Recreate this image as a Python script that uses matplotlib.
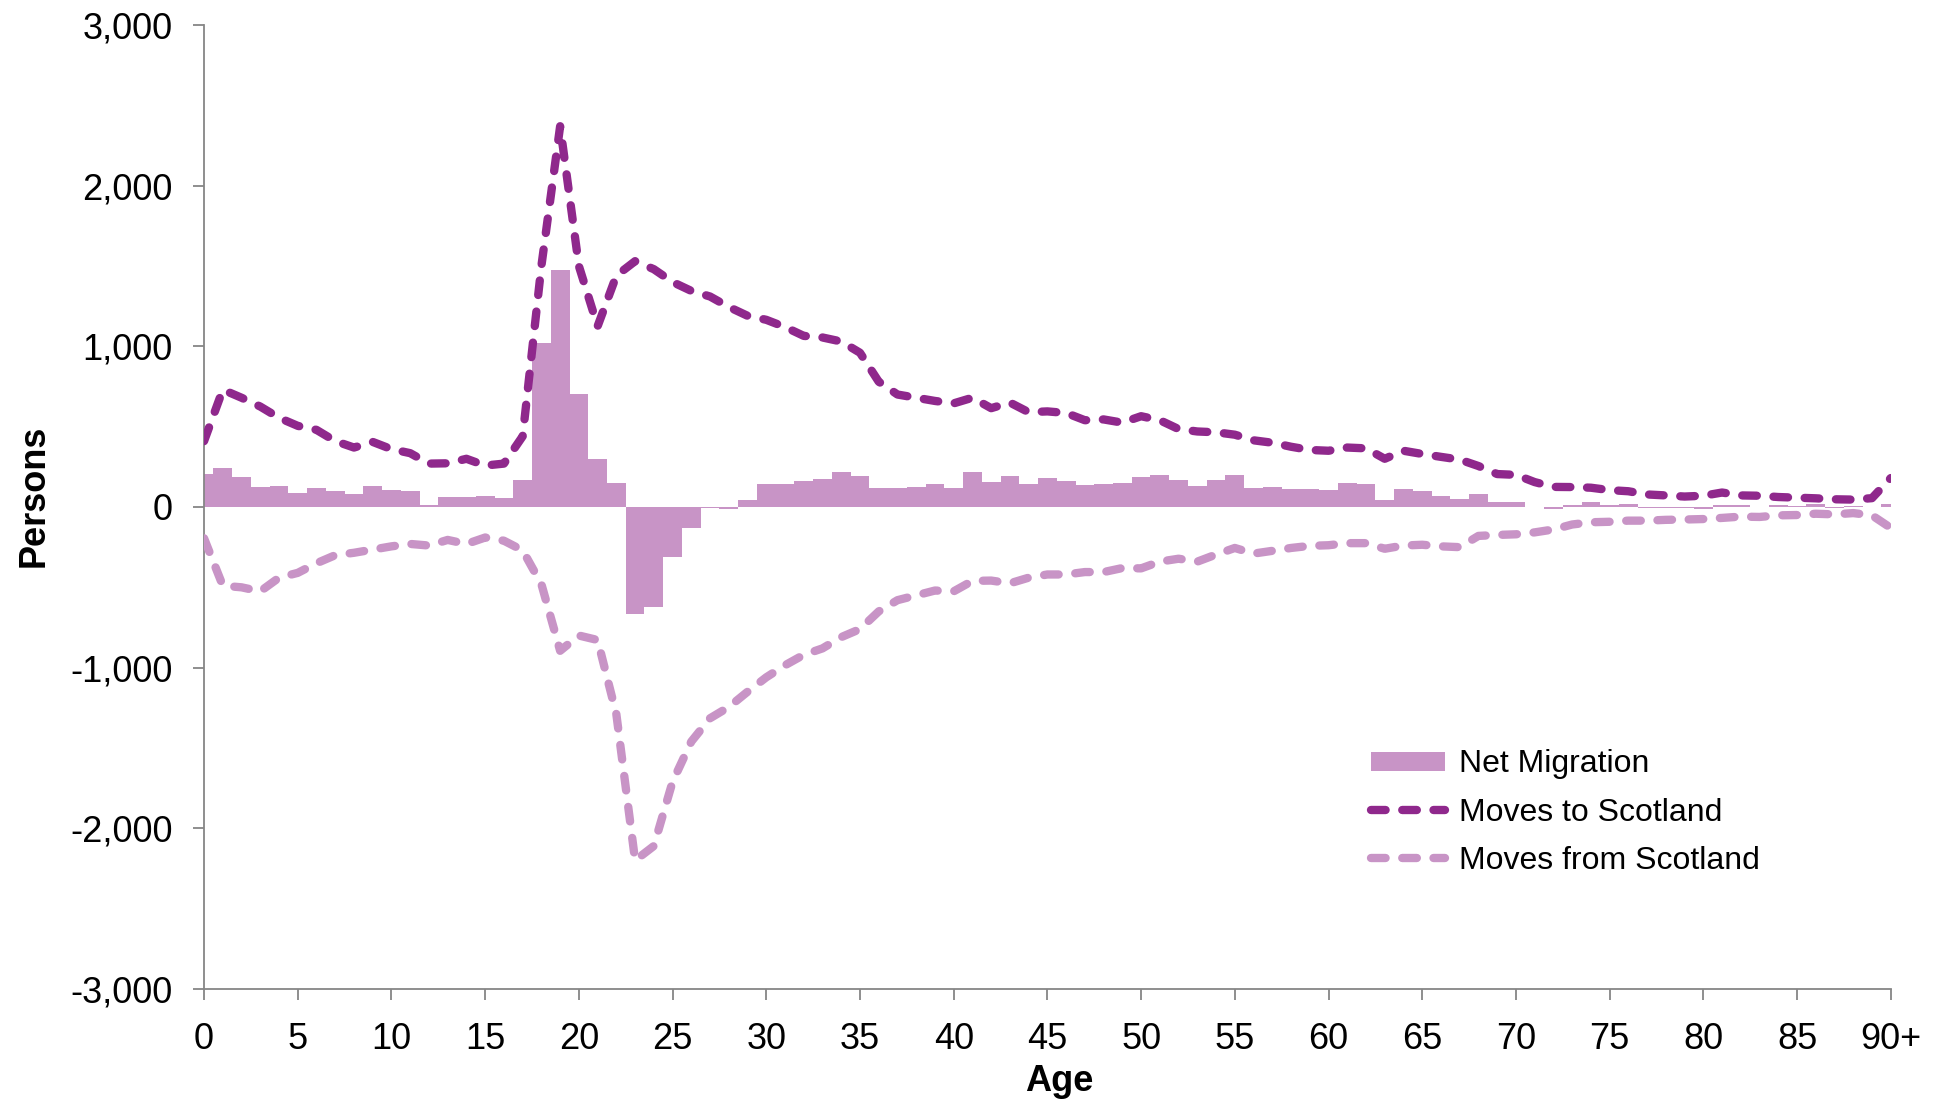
import matplotlib
matplotlib.use('Agg')
import matplotlib.pyplot as plt
from matplotlib.ticker import FuncFormatter
import numpy as np

plt.rcParams['font.family'] = ['Liberation Sans', 'DejaVu Sans']
plt.rcParams['lines.scale_dashes'] = False

# single year of age, last one is 90+
ages = np.arange(91)

net_migration = [
    207, 240, 188, 124, 129, 86, 117, 102, 81, 129,
    105, 100, 12, 62, 60, 67, 55, 169, 1019, 1476,
    702, 296, 149, -667, -625, -311, -131, -6, -10, 44,
    144, 144, 164, 175, 219, 194, 119, 119, 126, 142,
    118, 220, 157, 192, 142, 179, 164, 135, 142, 151,
    186, 199, 166, 129, 168, 199, 116, 127, 114, 111,
    107, 148, 140, 41, 113, 100, 70, 50, 78, 28,
    28, 0, -15, 15, 33, 11, 17, -8, -5, -5,
    -10, 10, 10, 0, 10, 6, 20, -5, 8, -3,
    17]

moves_to = [
    410, 730, 680, 625, 555, 505, 480, 410, 370, 405,
    360, 335, 270, 272, 300, 258, 270, 440, 1500, 2370,
    1500, 1125, 1440, 1530, 1480, 1400, 1345, 1310, 1245, 1190,
    1165, 1120, 1065, 1055, 1030, 960, 780, 700, 680, 660,
    645, 680, 615, 650, 590, 595, 585, 540, 545, 525,
    565, 540, 485, 470, 465, 450, 415, 400, 375, 355,
    350, 370, 365, 300, 350, 330, 312, 295, 255, 205,
    200, 155, 125, 124, 120, 105, 98, 78, 72, 65,
    70, 90, 72, 70, 62, 58, 54, 48, 46, 55,
    180]

moves_from = [
    -195, -490, -500, -525, -440, -410, -350, -300, -285, -265,
    -245, -230, -240, -205, -230, -190, -210, -270, -480, -895,
    -800, -828, -1290, -2200, -2110, -1710, -1460, -1315, -1245, -1150,
    -1060, -985, -920, -880, -810, -760, -650, -580, -550, -520,
    -525, -460, -458, -475, -440, -420, -420, -405, -405, -380,
    -382, -340, -322, -340, -296, -255, -290, -273, -255, -242,
    -238, -225, -225, -260, -240, -235, -245, -250, -180, -174,
    -170, -158, -140, -109, -95, -92, -85, -85, -80, -78,
    -75, -68, -60, -62, -52, -50, -42, -46, -38, -52,
    -130]

x_ticks = list(range(0, 91, 5))
x_labels = [str(t) for t in range(0, 90, 5)] + ['90+']

dark = '#8F288C'
light = '#C894C6'
grey = '#868686'

fig = plt.figure(figsize=(19.49, 11.06), dpi=100)
ax = fig.add_axes([0.1047, 0.1058, 0.8654, 0.8716])

bars = ax.bar(ages, net_migration, width=1.0, color=light, linewidth=0,
              label='Net Migration', zorder=2)
line_to, = ax.plot(ages, moves_to, color=dark, lw=6, dashes=(10.5, 12),
                   dash_capstyle='round', label='Moves to Scotland', zorder=3)
line_from, = ax.plot(ages, moves_from, color=light, lw=6, dashes=(10.5, 12),
                     dash_capstyle='round', label='Moves from Scotland', zorder=3)

ax.set_xlim(0, 90)
ax.set_ylim(-3000, 3000)
ax.set_xticks(x_ticks)
ax.set_xticklabels(x_labels)
ax.set_yticks(range(-3000, 3001, 1000))
ax.yaxis.set_major_formatter(FuncFormatter(lambda v, p: f'{v:,.0f}'))

for side in ['top', 'right']:
    ax.spines[side].set_visible(False)
for side in ['left', 'bottom']:
    ax.spines[side].set_color(grey)
    ax.spines[side].set_linewidth(1.3)

ax.tick_params(axis='both', direction='out', length=7.7, width=1.3,
               color=grey, labelsize=26)
ax.tick_params(axis='x', pad=16)
ax.tick_params(axis='y', pad=15)

ax.set_ylabel('Persons', fontsize=26, fontweight='bold', va='center')
ax.yaxis.set_label_coords(-0.1008, 0.512)
ax.set_xlabel('Age', fontsize=26, fontweight='bold', va='center')
ax.xaxis.set_label_coords(0.507, -0.0958)

ax.legend([bars, line_to, line_from],
          ['Net Migration', 'Moves to Scotland', 'Moves from Scotland'],
          loc='upper left', bbox_to_anchor=(0.7033, 0.3224),
          bbox_transform=fig.transFigure, frameon=False, fontsize=23,
          borderpad=0, borderaxespad=0, handlelength=2.32,
          handletextpad=0.44, handleheight=0.53, labelspacing=0.57)

fig.savefig('out.png', dpi=100)
